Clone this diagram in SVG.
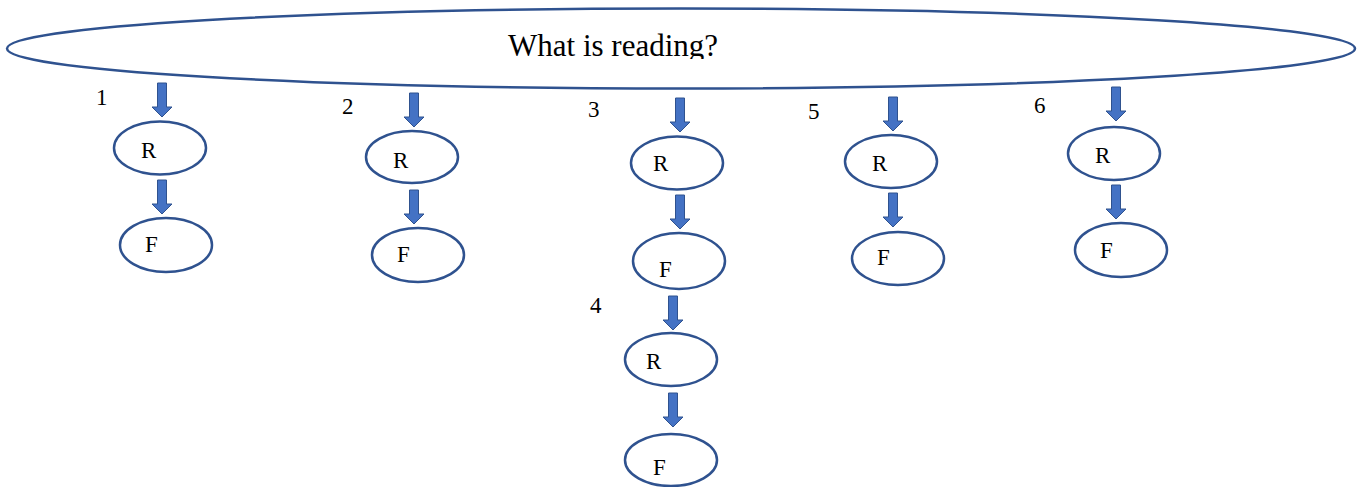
<svg xmlns="http://www.w3.org/2000/svg" xmlns:xlink="http://www.w3.org/1999/xlink" width="1359" height="487" viewBox="0 0 1359 487">
<style>
.node{fill:#fff;stroke:#2F528F;stroke-width:2.5}
.lbl{font-family:"Liberation Serif","Times New Roman",serif;font-size:23px;fill:#000}
.title{font-family:"Liberation Serif","Times New Roman",serif;font-size:31px;fill:#000}
.arr{fill:#4472C4;stroke:#2F528F;stroke-width:1}
</style>
<defs>
<path id="arrow" class="arr" d="M-4.5,0 H4.5 V24 H10 L0,34 L-10,24 H-4.5 Z"/>
<clipPath id="tclip"><rect x="400" y="20" width="500" height="39"/></clipPath>
</defs>
<rect width="1359" height="487" fill="#fff"/>
<g id="root">
<ellipse class="node" cx="681" cy="48.5" rx="674" ry="40"/>
<text class="title" x="508" y="56" clip-path="url(#tclip)">What is reading?</text>
</g>
<g id="labels">
<text class="lbl" x="96" y="105">1</text>
<text class="lbl" x="342" y="114">2</text>
<text class="lbl" x="588" y="117">3</text>
<text class="lbl" x="590" y="313">4</text>
<text class="lbl" x="808" y="119">5</text>
<text class="lbl" x="1034" y="113">6</text>
</g>
<g id="connectors">
<use xlink:href="#arrow" transform="translate(162,83)"/>
<use xlink:href="#arrow" transform="translate(162,180)"/>
<use xlink:href="#arrow" transform="translate(414,93)"/>
<use xlink:href="#arrow" transform="translate(414,190)"/>
<use xlink:href="#arrow" transform="translate(680,98)"/>
<use xlink:href="#arrow" transform="translate(680,195)"/>
<use xlink:href="#arrow" transform="translate(673,296)"/>
<use xlink:href="#arrow" transform="translate(673,393)"/>
<use xlink:href="#arrow" transform="translate(893,97)"/>
<use xlink:href="#arrow" transform="translate(893,193)"/>
<use xlink:href="#arrow" transform="translate(1116,87)"/>
<use xlink:href="#arrow" transform="translate(1116,185)"/>
</g>
<g id="r1"><ellipse class="node" cx="160" cy="148" rx="46" ry="26.5"/><text class="lbl" x="141" y="158">R</text></g>
<g id="f1"><ellipse class="node" cx="166" cy="245" rx="46" ry="27"/><text class="lbl" x="145" y="252">F</text></g>
<g id="r2"><ellipse class="node" cx="412" cy="157" rx="46" ry="26"/><text class="lbl" x="393" y="168">R</text></g>
<g id="f2"><ellipse class="node" cx="418" cy="255" rx="46" ry="27"/><text class="lbl" x="397" y="262">F</text></g>
<g id="r3"><ellipse class="node" cx="677" cy="163" rx="46" ry="26.5"/><text class="lbl" x="653" y="171">R</text></g>
<g id="f3"><ellipse class="node" cx="679" cy="261" rx="46" ry="28"/><text class="lbl" x="659" y="277">F</text></g>
<g id="r4"><ellipse class="node" cx="671" cy="359.5" rx="46" ry="26.5"/><text class="lbl" x="646" y="369">R</text></g>
<g id="f4"><ellipse class="node" cx="671" cy="460" rx="46" ry="26"/><text class="lbl" x="653" y="475">F</text></g>
<g id="r5"><ellipse class="node" cx="891" cy="161.5" rx="46" ry="26.5"/><text class="lbl" x="872" y="171">R</text></g>
<g id="f5"><ellipse class="node" cx="898" cy="258.5" rx="46" ry="26.5"/><text class="lbl" x="877" y="265">F</text></g>
<g id="r6"><ellipse class="node" cx="1114" cy="153.5" rx="46" ry="26.5"/><text class="lbl" x="1095" y="163">R</text></g>
<g id="f6"><ellipse class="node" cx="1121" cy="250" rx="46" ry="27"/><text class="lbl" x="1100" y="258">F</text></g>
</svg>
